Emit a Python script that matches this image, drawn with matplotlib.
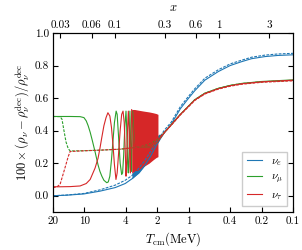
import numpy as np
import matplotlib
matplotlib.use("Agg")
import matplotlib.pyplot as plt
from matplotlib.ticker import FixedLocator, FixedFormatter, NullLocator

plt.rcParams["font.family"] = "serif"
plt.rcParams["font.serif"] = ["cmr10", "DejaVu Serif"]
plt.rcParams["mathtext.fontset"] = "cm"
plt.rcParams["axes.formatter.use_mathtext"] = True

# ---------------------------------------------------------------- data
ME = 0.511  # x = m_e / T

# nu_e
blue_T = [20, 15, 10.1, 7.1, 5.07, 4.06, 3.48, 3.04, 2.61, 2.33, 2.0, 1.7, 1.47, 1.2, 1.0,
          0.875, 0.7, 0.52, 0.4, 0.31, 0.25, 0.186, 0.14, 0.1]
blue_solid = [0.0, 0.003, 0.011, 0.028, 0.05, 0.075, 0.105, 0.14, 0.19, 0.24, 0.32, 0.39, 0.44,
              0.535, 0.60, 0.645, 0.71, 0.763, 0.80, 0.824, 0.842, 0.855, 0.862, 0.866]
blue_dash = [0.0, 0.004, 0.014, 0.036, 0.065, 0.095, 0.125, 0.165, 0.22, 0.27, 0.34, 0.405, 0.452,
             0.548, 0.612, 0.657, 0.722, 0.774, 0.81, 0.833, 0.851, 0.864, 0.871, 0.875]

# dense nu_e oscillation
blue_band_T = [3.5, 3.0, 2.6, 2.33, 2.14, 2.0, 1.9]
blue_band_lo = [0.105, 0.14, 0.19, 0.24, 0.28, 0.32, 0.345]
blue_band_hi = [0.14, 0.18, 0.235, 0.28, 0.32, 0.37, 0.38]

# nu_mu
green_T = [20, 17.1, 13.7, 11.0, 10.1, 9.6, 9.2, 8.8, 8.4, 7.9, 7.4, 7.1, 6.8, 6.5, 6.1, 5.9,
           5.7, 5.5, 5.3, 5.15, 4.96, 4.85, 4.7, 4.54, 4.39, 4.3, 4.2, 4.1, 3.99, 3.93, 3.85,
           3.79, 3.72, 3.66, 3.60, 3.55, 3.50, 3.45, 3.3, 2.9, 2.33, 2.0, 1.7, 1.47, 1.2, 1.0,
           0.875, 0.7, 0.52, 0.4, 0.31, 0.2, 0.1]
green_solid = [0.487, 0.487, 0.487, 0.486, 0.48, 0.46, 0.43, 0.39, 0.34, 0.27, 0.19, 0.15, 0.12,
               0.095, 0.08, 0.085, 0.12, 0.22, 0.35, 0.45, 0.52, 0.50, 0.36, 0.20, 0.13, 0.14,
               0.25, 0.42, 0.52, 0.42, 0.20, 0.14, 0.30, 0.52, 0.30, 0.15, 0.40, 0.52, 0.30,
               0.30, 0.30, 0.33, 0.39, 0.436, 0.50, 0.552, 0.59, 0.63, 0.66, 0.678, 0.69,
               0.702, 0.712]
green_dash_T = [20, 17.1, 16.4, 15.7, 15.0, 14.3, 13.7, 11.0, 7.1, 4.54, 2.91, 2.33, 2.0, 1.7,
                1.47, 1.2, 1.0, 0.875, 0.7, 0.52, 0.4, 0.31, 0.2, 0.1]
green_dash = [0.487, 0.486, 0.47, 0.40, 0.33, 0.29, 0.275, 0.276, 0.28, 0.286, 0.30, 0.32,
              0.345, 0.39, 0.436, 0.50, 0.552, 0.59, 0.63, 0.66, 0.678, 0.69, 0.70, 0.709]

# nu_tau
red_T = [20, 17.1, 13.7, 11.0, 9.6, 8.8, 7.9, 7.4, 7.1, 6.8, 6.5, 6.2, 5.95, 5.7, 5.5, 5.3,
         5.15, 4.98, 4.85, 4.7, 4.54, 4.39, 4.26, 4.15, 4.06, 3.99, 3.93, 3.85, 3.79, 3.72,
         3.66, 3.62, 3.57, 3.52, 3.3, 2.9, 2.33, 2.0, 1.7, 1.47, 1.2, 1.0, 0.875, 0.7, 0.52,
         0.4, 0.31, 0.2, 0.1]
red_solid = [0.055, 0.055, 0.056, 0.06, 0.075, 0.10, 0.17, 0.23, 0.29, 0.36, 0.43, 0.48, 0.51,
             0.49, 0.42, 0.30, 0.19, 0.10, 0.14, 0.26, 0.40, 0.50, 0.52, 0.45, 0.28, 0.12, 0.20,
             0.42, 0.52, 0.40, 0.18, 0.14, 0.35, 0.53, 0.30, 0.30, 0.30, 0.33, 0.39, 0.435,
             0.50, 0.55, 0.588, 0.628, 0.658, 0.676, 0.688, 0.70, 0.71]
red_dash_T = [20, 18.3, 17.1, 15.7, 14.3, 13.7, 11.0, 7.1, 4.54, 2.91, 2.33, 2.0, 1.7, 1.47,
              1.2, 1.0, 0.875, 0.7, 0.52, 0.4, 0.31, 0.2, 0.1]
red_dash = [0.05, 0.055, 0.07, 0.15, 0.24, 0.272, 0.275, 0.28, 0.286, 0.30, 0.32, 0.345, 0.39,
            0.433, 0.497, 0.548, 0.585, 0.625, 0.655, 0.673, 0.685, 0.697, 0.706]

# dense nu_tau oscillation
red_band_T = [3.52, 3.3, 3.0, 2.7, 2.4, 2.2, 2.05, 1.97]
red_band_hi = [0.53, 0.53, 0.525, 0.52, 0.515, 0.51, 0.505, 0.50]
red_band_lo = [0.14, 0.15, 0.16, 0.18, 0.20, 0.22, 0.235, 0.24]

T_ticks = [20, 10, 4, 2, 1, 0.4, 0.2, 0.1]
T_labels = ["20", "10", "4", "2", "1", "0.4", "0.2", "0.1"]
x_ticks = [0.03, 0.06, 0.1, 0.3, 0.6, 1, 3]
x_labels = ["0.03", "0.06", "0.1", "0.3", "0.6", "1", "3"]

C_BLUE = "#1f77b4"
C_GREEN = "#2ca02c"
C_RED = "#d62728"

# ---------------------------------------------------------------- plot
fig = plt.figure(figsize=(3.02, 2.5), dpi=100)
ax = fig.add_axes([0.1755, 0.152, 0.7945, 0.716])

lw = 0.8
dash = (0, (2.5, 1.2))

ax.plot(blue_T, blue_solid, color=C_BLUE, lw=lw, label=r"$\nu_e$")
ax.plot(blue_T, blue_dash, color=C_BLUE, lw=lw, ls=dash)
ax.fill_between(blue_band_T, blue_band_lo, blue_band_hi, color=C_BLUE, lw=0)

ax.plot(green_T, green_solid, color=C_GREEN, lw=lw, label=r"$\nu_\mu$")
ax.plot(green_dash_T, green_dash, color=C_GREEN, lw=lw, ls=dash)

ax.plot(red_T, red_solid, color=C_RED, lw=lw, label=r"$\nu_\tau$")
ax.plot(red_dash_T, red_dash, color=C_RED, lw=lw, ls=dash)
ax.fill_between(red_band_T, red_band_lo, red_band_hi, color=C_RED, lw=0)

ax.set_xscale("log")
ax.set_xlim(20, 0.1)
ax.set_ylim(-0.1, 1.0)
ax.xaxis.set_major_locator(FixedLocator(T_ticks))
ax.xaxis.set_major_formatter(FixedFormatter(T_labels))
ax.xaxis.set_minor_locator(NullLocator())
ax.set_yticks([0.0, 0.2, 0.4, 0.6, 0.8, 1.0])
ax.set_yticklabels(["0.0", "0.2", "0.4", "0.6", "0.8", "1.0"])
ax.tick_params(direction="in", length=3.5, labelsize=8, right=True, pad=3)

ax.set_xlabel(r"$T_{\rm cm}({\rm MeV})$", fontsize=9, labelpad=3)
ax.set_ylabel(r"$100\times(\rho_\nu-\rho_\nu^{\rm dec})/\rho_\nu^{\rm dec}$", fontsize=9, labelpad=2)

top = ax.twiny()
top.set_xscale("log")
top.set_xlim(ME / 20, ME / 0.1)
top.xaxis.set_major_locator(FixedLocator(x_ticks))
top.xaxis.set_major_formatter(FixedFormatter(x_labels))
top.xaxis.set_minor_locator(NullLocator())
top.tick_params(direction="in", length=3.5, labelsize=8, pad=2)
top.set_xlabel(r"$x$", fontsize=9, labelpad=7)

ax.legend(loc="lower right", fontsize=8, handlelength=1.4, labelspacing=0.4, fancybox=False,
          edgecolor="0.8", framealpha=1, borderaxespad=0.5)

fig.savefig("out.png", dpi=100)
